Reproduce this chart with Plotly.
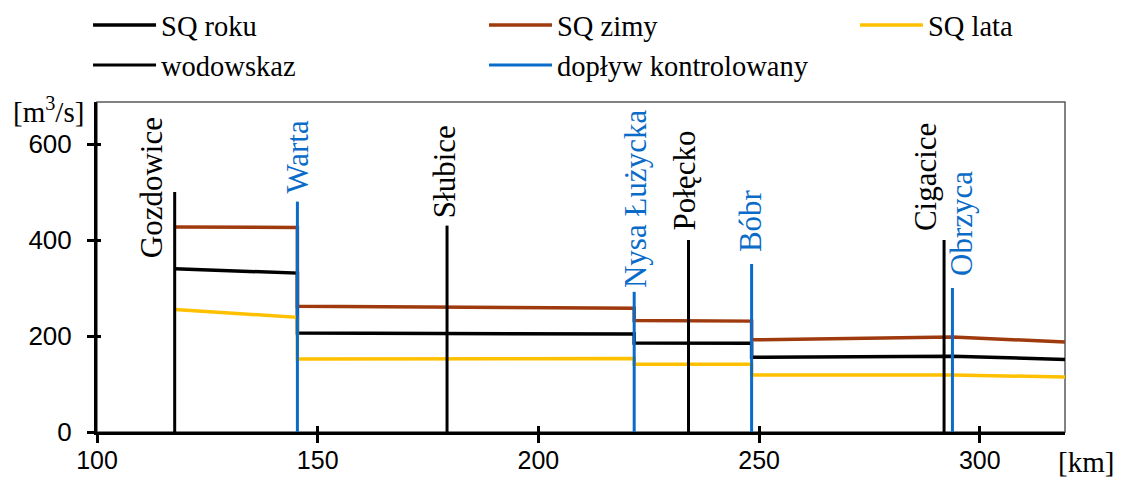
import plotly.graph_objects as go

# Discharge profile along the river: breakpoints in chainage [km]
profile_km = [117.6, 145.4, 145.4, 221.7, 221.7, 248.3, 248.3, 293.8, 319.3]
sq_roku = [340, 331, 206, 204, 185.5, 185, 155.5, 158, 151]
sq_zimy = [427, 426, 262, 258, 232.5, 231, 192, 198, 187.5]
sq_lata = [255, 239, 152, 153, 141, 141, 119, 119, 114.5]

# Gauging stations (wodowskazy)
gauge_names = ["Gozdowice", "Słubice", "Połęcko", "Cigacice"]
gauge_km = [117.6, 179.3, 234.0, 291.9]
gauge_top = [500, 430, 400, 400]

# Controlled tributaries
trib_names = ["Warta", "Nysa Łużycka", "Bóbr", "Obrzyca"]
trib_km = [145.4, 221.7, 248.3, 293.8]
trib_top = [480, 292, 350, 300]

x_ticks = [100, 150, 200, 250, 300]
y_ticks = [0, 200, 400, 600]

X_RANGE = [100, 319.3]
Y_RANGE = [0, 687.5]

BLACK = "#000000"
BROWN = "#9E3A0E"
GOLD = "#FFC000"
BLUE = "#0A6BC8"
SERIF = "Liberation Serif, Times New Roman, serif"
SANS = "Liberation Sans, Arial, sans-serif"

# label offsets (px) of the rotated station names relative to the line tops
label_shift = {
    "Gozdowice": (-23, -68),
    "Słubice": (-3, 5),
    "Połęcko": (-4, 8),
    "Cigacice": (-19, 7),
    "Warta": (0, 6),
    "Nysa Łużycka": (2, 2),
    "Bóbr": (-1, 10),
    "Obrzyca": (9, 10),
}


def sticks(km, top):
    xs, ys = [], []
    for k, t in zip(km, top):
        xs += [k, k, None]
        ys += [0, t, None]
    return xs, ys


fig = go.Figure()

fig.add_trace(go.Scatter(x=profile_km, y=sq_roku, mode="lines", name="SQ roku",
                         line=dict(color=BLACK, width=3.5), legend="legend"))
fig.add_trace(go.Scatter(x=profile_km, y=sq_zimy, mode="lines", name="SQ zimy",
                         line=dict(color=BROWN, width=3.5), legend="legend2"))
fig.add_trace(go.Scatter(x=profile_km, y=sq_lata, mode="lines", name="SQ lata",
                         line=dict(color=GOLD, width=3.5), legend="legend3"))

gx, gy = sticks(gauge_km, gauge_top)
fig.add_trace(go.Scatter(x=gx, y=gy, mode="lines", name="wodowskaz",
                         line=dict(color=BLACK, width=3), legend="legend"))
tx, ty = sticks(trib_km, trib_top)
fig.add_trace(go.Scatter(x=tx, y=ty, mode="lines", name="dopływ kontrolowany",
                         line=dict(color=BLUE, width=3), legend="legend2"))

# helper trace so the overlay axes (inner half of the tick marks) are drawn
fig.add_trace(go.Scatter(x=[None], y=[None], xaxis="x2", yaxis="y2",
                         showlegend=False, hoverinfo="skip"))

annotations = []
for names, km, top, color in [(gauge_names, gauge_km, gauge_top, BLACK),
                              (trib_names, trib_km, trib_top, BLUE)]:
    for n, k, t in zip(names, km, top):
        dx, dy = label_shift[n]
        annotations.append(dict(
            x=k, y=t, xref="x", yref="y", text=n, showarrow=False,
            textangle=-90, xanchor="center", yanchor="bottom",
            xshift=dx, yshift=dy, font=dict(family=SERIF, size=31, color=color)))

annotations.append(dict(x=-0.0503, y=0.975, xref="paper", yref="paper",
                        text="[m<sup>3</sup>/s]", showarrow=False,
                        xanchor="center", yanchor="middle",
                        font=dict(family=SERIF, size=29, color=BLACK)))
annotations.append(dict(x=1.022, y=-0.09, xref="paper", yref="paper",
                        text="[km]", showarrow=False,
                        xanchor="center", yanchor="middle",
                        font=dict(family=SERIF, size=29, color=BLACK)))

legend_common = dict(orientation="v", xanchor="left", yanchor="top",
                     xref="container", yref="container",
                     font=dict(family=SERIF, size=28.5, color=BLACK),
                     bgcolor="rgba(0,0,0,0)", itemwidth=63,
                     tracegroupgap=0)

fig.update_layout(
    width=1123, height=478,
    margin=dict(l=97, r=58, t=102, b=46, autoexpand=False),
    paper_bgcolor="white", plot_bgcolor="white",
    showlegend=True,
    legend=dict(x=0.0784, y=1.022, **legend_common),
    legend2=dict(x=0.431, y=1.022, **legend_common),
    legend3=dict(x=0.7613, y=1.022, **legend_common),
    annotations=annotations,
    shapes=[dict(type="rect", xref="paper", yref="paper", x0=0, x1=1, y0=0, y1=1,
                 line=dict(color="#5a5a5a", width=1.5), layer="below")],
    xaxis=dict(range=X_RANGE, tickvals=x_ticks, ticks="outside", ticklen=8,
               tickwidth=2.5, tickcolor=BLACK, showline=True, linewidth=3,
               linecolor=BLACK, showgrid=False, zeroline=False,
               ticklabelstandoff=-4,
               tickfont=dict(family=SANS, size=25, color=BLACK)),
    yaxis=dict(range=Y_RANGE, tickvals=y_ticks, ticks="outside", ticklen=7,
               tickwidth=2.5, tickcolor=BLACK, showline=True, linewidth=3,
               linecolor=BLACK, showgrid=False, zeroline=False,
               ticklabelposition="outside", ticklabelstandoff=10,
               tickfont=dict(family=SANS, size=26, color=BLACK)),
    xaxis2=dict(range=X_RANGE, overlaying="x", anchor="y", side="bottom",
                tickvals=x_ticks, ticks="inside", ticklen=6, tickwidth=2.5,
                tickcolor=BLACK, showticklabels=False, showline=False,
                showgrid=False, zeroline=False),
    yaxis2=dict(range=Y_RANGE, overlaying="y", anchor="x", side="left",
                tickvals=y_ticks, ticks="inside", ticklen=4, tickwidth=2.5,
                tickcolor=BLACK, showticklabels=False, showline=False,
                showgrid=False, zeroline=False),
)

fig.write_html("out.html")
